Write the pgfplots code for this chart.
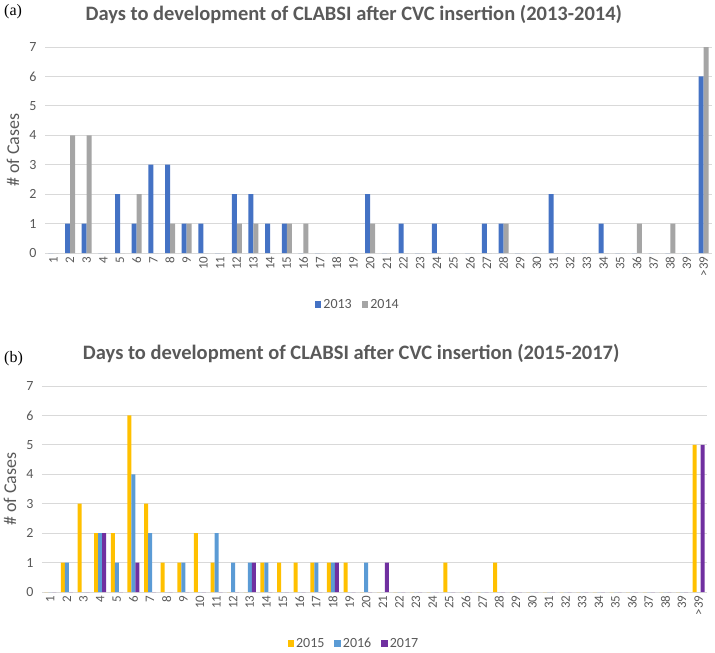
\documentclass[border=0pt]{standalone}
\usepackage{pgfplots}
\pgfplotsset{compat=1.18}
\usepackage{fontspec}
\setmainfont{Carlito}
\newfontfamily\serif{Liberation Serif}
\definecolor{txt}{HTML}{595959}
\definecolor{gridc}{HTML}{D9D9D9}
\definecolor{c13}{HTML}{4472C4}
\definecolor{c14}{HTML}{A5A5A5}
\definecolor{c15}{HTML}{FFC000}
\definecolor{c16}{HTML}{5B9BD5}
\definecolor{c17}{HTML}{7030A0}

\pgfplotsset{
  mystyle/.style={
    scale only axis,
    height=206pt,
    ymin=0, ymax=7, xmin=-0.5, xmax=39.5,
    xtick={0,...,39},
    xticklabels={1,2,3,4,5,6,7,8,9,10,11,12,13,14,15,16,17,18,19,20,21,22,23,24,25,26,27,28,29,30,31,32,33,34,35,36,37,38,39,{>39}},
    ytick={0,...,7},
    yticklabels={0,1,2,3,4,5,6,7},
    major tick length=0pt,
    axis x line*=bottom, axis y line*=left,
    y axis line style={draw=none},
    x axis line style={gridc, line width=0.8pt},
    ymajorgrids, grid style={gridc, line width=0.8pt},
    tick label style={text=txt},
    xticklabel style={rotate=90, anchor=east, font=\fontsize{13}{13}\selectfont},
    yticklabel style={font=\fontsize{14}{14}\selectfont, xshift=-5pt},
    ylabel={\# of Cases},
    every axis y label/.style={at={(axis description cs:-0.048,0.5)}, rotate=90, anchor=center,
      font=\fontsize{18}{18}\selectfont, text=txt},
    title style={font=\bfseries\fontsize{20.5}{21}\selectfont, text=txt, anchor=base, yshift=21pt},
    legend style={draw=none, fill=none, legend columns=-1, font=\fontsize{14}{14}\selectfont, text=txt,
      /tikz/every even column/.append style={column sep=8pt}, anchor=center},
    every axis plot post/.append style={
      /pgfplots/legend image code/.code={\fill[##1] (0pt,-3.5pt) rectangle (6.5pt,3.5pt);}},
  }
}

\begin{document}
\begin{tikzpicture}
\path[use as bounding box] (0pt,0pt) rectangle (715pt,-653pt);

\node[anchor=base west, font=\serif\fontsize{16}{16}\selectfont, inner sep=0pt] at (4pt,-15pt) {(a)};
\node[anchor=base west, font=\serif\fontsize{16}{16}\selectfont, inner sep=0pt] at (4pt,-362pt) {(b)};

\begin{axis}[mystyle,
  at={(45pt,-253pt)}, anchor=south west,
  width=667pt,
  ybar=0pt, bar width=5pt,
  title={Days to development of CLABSI after CVC insertion (2013-2014)},
  title style={at={(axis description cs:0.463,1)}},
  legend style={at={(axis description cs:0.469,-0.25)}},
]
\addplot[fill=c13, draw=none] coordinates {
(0,0) (1,1) (2,1) (3,0) (4,2) (5,1) (6,3) (7,3) (8,1) (9,1)
(10,0) (11,2) (12,2) (13,1) (14,1) (15,0) (16,0) (17,0) (18,0) (19,2)
(20,0) (21,1) (22,0) (23,1) (24,0) (25,0) (26,1) (27,1) (28,0) (29,0)
(30,2) (31,0) (32,0) (33,1) (34,0) (35,0) (36,0) (37,0) (38,0) (39,6)};
\addplot[fill=c14, draw=none] coordinates {
(0,0) (1,4) (2,4) (3,0) (4,0) (5,2) (6,0) (7,1) (8,1) (9,0)
(10,0) (11,1) (12,1) (13,0) (14,1) (15,1) (16,0) (17,0) (18,0) (19,1)
(20,0) (21,0) (22,0) (23,0) (24,0) (25,0) (26,0) (27,1) (28,0) (29,0)
(30,0) (31,0) (32,0) (33,0) (34,0) (35,1) (36,0) (37,1) (38,0) (39,7)};
\legend{2013,2014}
\end{axis}

\begin{axis}[mystyle,
  at={(42pt,-592pt)}, anchor=south west,
  width=665pt,
  ybar=0pt, bar width=4pt,
  title={Days to development of CLABSI after CVC insertion (2015-2017)},
  title style={at={(axis description cs:0.465,1)}},
  legend style={at={(axis description cs:0.469,-0.25)}},
]
\addplot[fill=c15, draw=none] coordinates {
(0,0) (1,1) (2,3) (3,2) (4,2) (5,6) (6,3) (7,1) (8,1) (9,2)
(10,1) (11,0) (12,0) (13,1) (14,1) (15,1) (16,1) (17,1) (18,1) (19,0)
(20,0) (21,0) (22,0) (23,0) (24,1) (25,0) (26,0) (27,1) (28,0) (29,0)
(30,0) (31,0) (32,0) (33,0) (34,0) (35,0) (36,0) (37,0) (38,0) (39,5)};
\addplot[fill=c16, draw=none] coordinates {
(0,0) (1,1) (2,0) (3,2) (4,1) (5,4) (6,2) (7,0) (8,1) (9,0)
(10,2) (11,1) (12,1) (13,1) (14,0) (15,0) (16,1) (17,1) (18,0) (19,1)
(20,0) (21,0) (22,0) (23,0) (24,0) (25,0) (26,0) (27,0) (28,0) (29,0)
(30,0) (31,0) (32,0) (33,0) (34,0) (35,0) (36,0) (37,0) (38,0) (39,0)};
\addplot[fill=c17, draw=none] coordinates {
(0,0) (1,0) (2,0) (3,2) (4,0) (5,1) (6,0) (7,0) (8,0) (9,0)
(10,0) (11,0) (12,1) (13,0) (14,0) (15,0) (16,0) (17,1) (18,0) (19,0)
(20,1) (21,0) (22,0) (23,0) (24,0) (25,0) (26,0) (27,0) (28,0) (29,0)
(30,0) (31,0) (32,0) (33,0) (34,0) (35,0) (36,0) (37,0) (38,0) (39,5)};
\legend{2015,2016,2017}
\end{axis}
\end{tikzpicture}
\end{document}
